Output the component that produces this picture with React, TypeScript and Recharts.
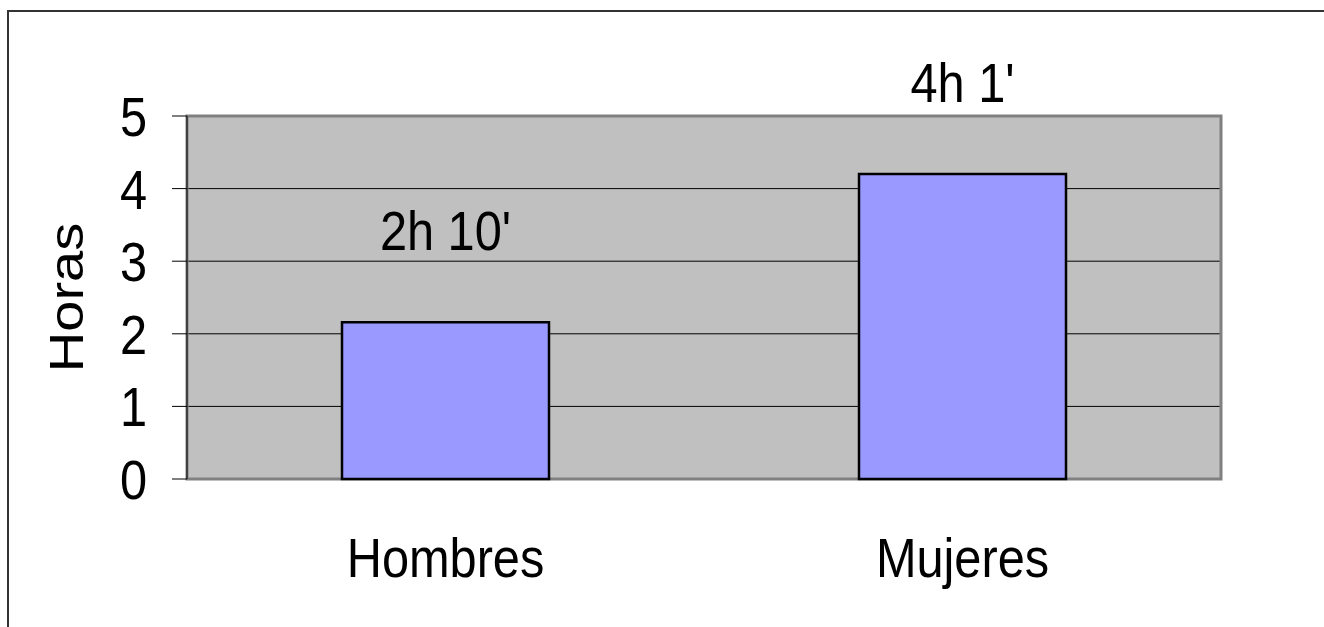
import {
  Bar,
  BarChart,
  CartesianGrid,
  LabelList,
  ReferenceArea,
  XAxis,
  YAxis,
} from 'recharts'

const categorias = ['Hombres', 'Mujeres']
const horas = [2.16, 4.2]
const etiquetas = ["2h 10'", "4h 1'"]
const yTicks = [0, 1, 2, 3, 4, 5]

const data = categorias.map((name, i) => ({
  name,
  horas: horas[i],
  label: etiquetas[i],
}))

const FONT = '"Liberation Sans", Arial, sans-serif'
const FONT_SIZE = 56
const SQUEEZE = 0.87

function XTick({ x, y, payload }: any) {
  return (
    <text
      transform={`translate(${x},${y + 98}) scale(${SQUEEZE},1)`}
      textAnchor="middle"
      fontFamily={FONT}
      fontSize={FONT_SIZE}
      fill="#000"
    >
      {payload.value}
    </text>
  )
}

function YTick({ x, y, payload }: any) {
  return (
    <text
      transform={`translate(${x - 25},${y + 20}) scale(${SQUEEZE},1)`}
      textAnchor="end"
      fontFamily={FONT}
      fontSize={FONT_SIZE}
      fill="#000"
    >
      {payload.value}
    </text>
  )
}

function BarLabel({ x, y, width, value }: any) {
  const cx = Number(x) + Number(width) / 2
  return (
    <text
      transform={`translate(${cx},${Number(y) - 72}) scale(${SQUEEZE},1)`}
      textAnchor="middle"
      fontFamily={FONT}
      fontSize={FONT_SIZE}
      fill="#000"
    >
      {value}
    </text>
  )
}

function AxisTitle({ viewBox }: any) {
  const cy = viewBox ? viewBox.y + viewBox.height / 2 : 289.5
  return (
    <text
      transform={`translate(75,${cy}) rotate(-90) scale(1,${SQUEEZE})`}
      textAnchor="middle"
      fontFamily={FONT}
      fontSize={FONT_SIZE}
      fill="#000"
    >
      Horas
    </text>
  )
}

export default function App() {
  return (
    <div style={{ position: 'relative', width: 1316, height: 619 }}>
      <style>{'html,body{overflow:hidden}'}</style>
      <BarChart
        width={1316}
        height={619}
        data={data}
        margin={{ top: 108, right: 103, left: 0, bottom: 0 }}
        style={{ position: 'absolute', left: 0, top: 0 }}
      >
        <CartesianGrid vertical={false} stroke="#000" fill="#c0c0c0" />
        <ReferenceArea
          y1={0}
          y2={5}
          fill="none"
          stroke="#808080"
          strokeWidth={3}
          ifOverflow="visible"
        />
        <XAxis
          dataKey="name"
          height={148}
          tickSize={0}
          tickMargin={0}
          tickLine={false}
          axisLine={false}
          tick={<XTick />}
        />
        <YAxis
          width={179}
          domain={[0, 5]}
          ticks={yTicks}
          tickSize={15}
          tickMargin={0}
          tickLine={{ stroke: '#000' }}
          axisLine={{ stroke: '#404040', strokeWidth: 2 }}
          tick={<YTick />}
          label={{ content: <AxisTitle /> }}
        />
        <Bar
          dataKey="horas"
          barSize={207}
          fill="#9999ff"
          stroke="#000"
          strokeWidth={2.5}
          isAnimationActive={false}
        >
          <LabelList dataKey="label" content={<BarLabel />} />
        </Bar>
      </BarChart>
      <div
        style={{
          position: 'fixed',
          left: 7,
          top: 10,
          width: 1400,
          height: 700,
          borderTop: '2px solid #333',
          borderLeft: '2px solid #333',
          pointerEvents: 'none',
        }}
      />
    </div>
  )
}
